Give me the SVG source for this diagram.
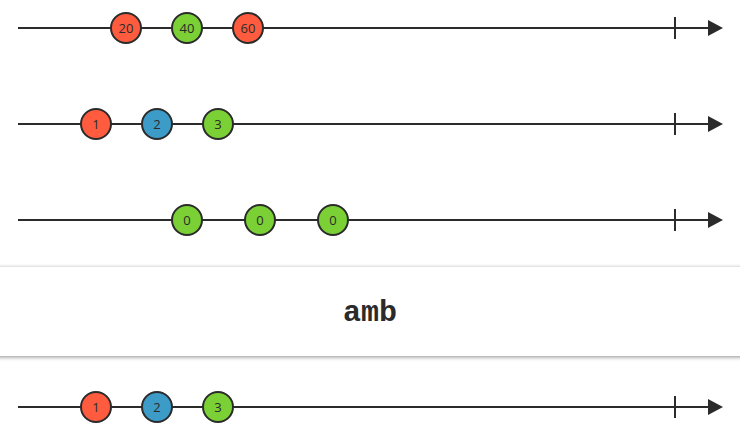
<svg xmlns="http://www.w3.org/2000/svg" width="740" height="430" viewBox="0 0 740 430">
<style>
.line{stroke:#2b2b2b;stroke-width:2;fill:none}
.m{stroke:#2b2b2b;stroke-width:2}
.r{fill:#ff5b3f}.g{fill:#7ad034}.b{fill:#3d9bc8}
.t{font-family:"Open Sans","Noto Sans",sans-serif;font-size:13px;fill:#2b2b2b;text-anchor:middle;dominant-baseline:central}
.op{font-family:"Liberation Mono","Courier New",monospace;font-size:30px;font-weight:bold;fill:#2b2b2b;text-anchor:middle;dominant-baseline:central}
</style>
<defs>
<marker id="arr" markerWidth="16" markerHeight="16" refX="0" refY="8" markerUnits="userSpaceOnUse" orient="auto"><path d="M0,0 L15,8 L0,16 Z" fill="#2b2b2b"/></marker>
<filter id="sh" x="-5%" y="-20%" width="110%" height="150%"><feGaussianBlur in="SourceAlpha" stdDeviation="2"/><feOffset dy="1"/><feComponentTransfer><feFuncA type="linear" slope="0.45"/></feComponentTransfer><feMerge><feMergeNode/><feMergeNode in="SourceGraphic"/></feMerge></filter>
</defs>
<rect width="740" height="430" fill="#ffffff"/>
<g id="connectors">
<path class="line" d="M18,28 H708" marker-end="url(#arr)"/><path class="line" d="M675,17 V39"/>
<path class="line" d="M18,124 H708" marker-end="url(#arr)"/><path class="line" d="M675,113 V135"/>
<path class="line" d="M18,220 H708" marker-end="url(#arr)"/><path class="line" d="M675,209 V231"/>
<path class="line" d="M18,407 H708" marker-end="url(#arr)"/><path class="line" d="M675,396 V418"/>
</g>
<g id="input1">
<g id="n20"><circle class="m r" cx="126" cy="28" r="15"/><text class="t" x="126" y="28">20</text></g>
<g id="n40"><circle class="m g" cx="187" cy="28" r="15"/><text class="t" x="187" y="28">40</text></g>
<g id="n60"><circle class="m r" cx="248" cy="28" r="15"/><text class="t" x="248" y="28">60</text></g>
</g>
<g id="input2">
<g id="n1"><circle class="m r" cx="96" cy="124" r="15"/><text class="t" x="96" y="124">1</text></g>
<g id="n2"><circle class="m b" cx="157" cy="124" r="15"/><text class="t" x="157" y="124">2</text></g>
<g id="n3"><circle class="m g" cx="218" cy="124" r="15"/><text class="t" x="218" y="124">3</text></g>
</g>
<g id="input3">
<g id="n0a"><circle class="m g" cx="187" cy="220" r="15"/><text class="t" x="187" y="220">0</text></g>
<g id="n0b"><circle class="m g" cx="260" cy="220" r="15"/><text class="t" x="260" y="220">0</text></g>
<g id="n0c"><circle class="m g" cx="333" cy="220" r="15"/><text class="t" x="333" y="220">0</text></g>
</g>
<g id="operator">
<rect x="-5" y="267" width="750" height="89" fill="#ffffff" filter="url(#sh)"/>
<text class="op" x="370" y="313">amb</text>
</g>
<g id="output">
<g id="o1"><circle class="m r" cx="96" cy="407" r="15"/><text class="t" x="96" y="407">1</text></g>
<g id="o2"><circle class="m b" cx="157" cy="407" r="15"/><text class="t" x="157" y="407">2</text></g>
<g id="o3"><circle class="m g" cx="218" cy="407" r="15"/><text class="t" x="218" y="407">3</text></g>
</g>
</svg>
